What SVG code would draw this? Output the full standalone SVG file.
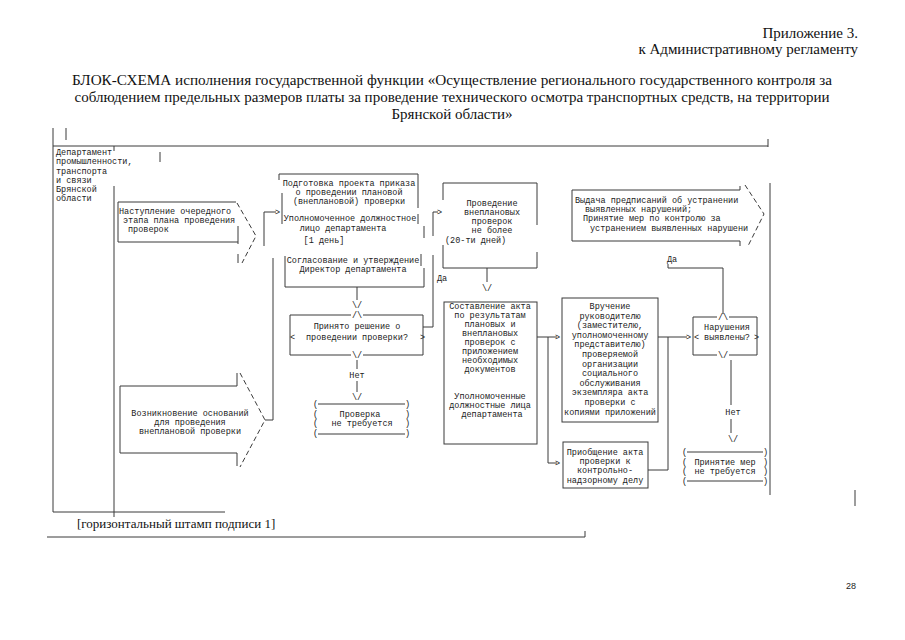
<svg xmlns="http://www.w3.org/2000/svg" width="905" height="640" viewBox="0 0 905 640">
<style>
.m{font-family:"Liberation Mono","DejaVu Sans Mono",monospace;font-size:8.5px;fill:#222}
.c{text-anchor:middle}
.s{font-family:"Liberation Serif","Times New Roman",serif;fill:#111}
.l{stroke:#3a3a3a;stroke-width:1;fill:none}
.d{stroke:#3a3a3a;stroke-width:1;fill:none;stroke-dasharray:5 3}
</style>
<rect width="905" height="640" fill="#fff"/>

<g id="header">
<text class="s" x="858" y="38" font-size="15" text-anchor="end">Приложение 3.</text>
<text class="s" x="858" y="54" font-size="15" text-anchor="end">к Административному регламенту</text>
<text class="s" x="452" y="85" font-size="15" text-anchor="middle" textLength="760" lengthAdjust="spacingAndGlyphs">БЛОК-СХЕМА исполнения государственной функции «Осуществление регионального государственного контроля за</text>
<text class="s" x="452" y="102" font-size="15" text-anchor="middle" textLength="755" lengthAdjust="spacingAndGlyphs">соблюдением предельных размеров платы за проведение технического осмотра транспортных средств, на территории</text>
<text class="s" x="452" y="119" font-size="15" text-anchor="middle">Брянской области»</text>
</g>

<g id="frame">
<path class="l" d="M53,128V512 M66,128V140 M53,146H768 M768,139V147 M114,146V151 M160,152V162 M114,186V517 M53,512H225 M770,183V495 M855,490V506 M47,537H585 M585,531V537"/>
<text class="s" x="77" y="528" font-size="13">[горизонтальный штамп подписи 1]</text>
<text x="846" y="589" font-family="Liberation Sans, Arial, sans-serif" font-size="9" fill="#222">28</text>
</g>

<g id="dept">
<text class="m" x="56" y="155">Департамент</text>
<text class="m" x="56" y="164">промышленности,</text>
<text class="m" x="56" y="174">транспорта</text>
<text class="m" x="56" y="183">и связи</text>
<text class="m" x="56" y="192">Брянской</text>
<text class="m" x="56" y="201">области</text>
</g>

<g id="n-nastuplenie">
<path class="l" d="M118,202H236 M118,202V242 M118,242H238 M238,226V244 M238,254V263"/>
<path class="d" d="M237,203L256,236L242,263"/>
<text class="m" x="119" y="214">Наступление очередного</text>
<text class="m" x="123" y="223">этапа плана проведения</text>
<text class="m" x="128" y="232">проверок</text>
</g>

<g id="n-vozniknovenie">
<path class="l" d="M120,386V453 M120,386H237 M237,373V386 M120,453H237 M237,453V466"/>
<path class="d" d="M240,373L265,420L240,467"/>
<text class="m c" x="190" y="416">Возникновение оснований</text>
<text class="m c" x="190" y="425">для проведения</text>
<text class="m c" x="190" y="434">внеплановой проверки</text>
</g>

<g id="n-podgotovka">
<path class="l" d="M279,174H418 M279,174V180 M418,174V208 M418,214V224 M424,226V238 M282,193V224"/>
<text class="m c" x="349" y="186">Подготовка проекта приказа</text>
<text class="m c" x="349" y="195">о проведении плановой</text>
<text class="m c" x="349" y="204">(внеплановой) проверки</text>
<text class="m c" x="350" y="221">Уполномоченное должностное</text>
<text class="m c" x="343" y="231">лицо  департамента</text>
<text class="m c" x="324" y="243">[1 день]</text>
</g>

<g id="n-soglasovanie">
<path class="l" d="M285,256V287H424V268 M421,254V266"/>
<text class="m c" x="353" y="263">Согласование и утверждение</text>
<text class="m c" x="353" y="272">Директор департамента</text>
</g>

<g id="n-decision1">
<path class="l" d="M290,315H351 M363,315H423 M290,315V355 M423,315V355 M290,355H351 M363,355H423"/>
<text class="m c" x="357" y="318">/\</text>
<text class="m c" x="357" y="358">\/</text>
<text class="m c" x="357" y="329">Принято решение о</text>
<text class="m" x="290" y="340">&lt;</text>
<text class="m c" x="357" y="340">проведении проверки?</text>
<text class="m" x="420" y="340">&gt;</text>
</g>

<g id="n-net-proverki">
<path class="l" d="M318,404H405 M318,434H405"/>
<text class="m" x="313" y="407">(</text><text class="m" x="405" y="407">)</text>
<text class="m" x="313" y="417">(</text><text class="m" x="405" y="417">)</text>
<text class="m" x="313" y="426">(</text><text class="m" x="405" y="426">)</text>
<text class="m" x="313" y="436">(</text><text class="m" x="405" y="436">)</text>
<text class="m c" x="360" y="417">Проверка</text>
<text class="m c" x="362" y="426">не требуется</text>
</g>

<g id="n-provedenie">
<path class="l" d="M443,183H537 M443,183V200 M443,245V268H537V252 M537,183V225"/>
<text class="m c" x="492" y="206">Проведение</text>
<text class="m c" x="492" y="215">внеплановых</text>
<text class="m c" x="492" y="224">проверок</text>
<text class="m c" x="492" y="233">не более</text>
<text class="m" x="445" y="243">(20-ти дней)</text>
</g>

<g id="n-sostavlenie">
<rect class="l" x="444" y="302" width="93" height="142"/>
<text class="m c" x="490" y="309">Составление акта</text>
<text class="m c" x="490" y="318">по результатам</text>
<text class="m c" x="490" y="327">плановых и</text>
<text class="m c" x="490" y="336">внеплановых</text>
<text class="m c" x="490" y="345">проверок с</text>
<text class="m c" x="490" y="354">приложением</text>
<text class="m c" x="490" y="363">необходимых</text>
<text class="m c" x="490" y="372">документов</text>
<text class="m c" x="490" y="399">Уполномоченные</text>
<text class="m c" x="490" y="408">должностные лица</text>
<text class="m c" x="492" y="417">департамента</text>
</g>

<g id="n-vruchenie">
<rect class="l" x="562" y="298" width="96" height="124"/>
<text class="m c" x="610" y="309">Вручение</text>
<text class="m c" x="610" y="318.6">руководителю</text>
<text class="m c" x="610" y="328.2">(заместителю,</text>
<text class="m c" x="610" y="337.8">уполномоченному</text>
<text class="m c" x="610" y="347.4">представителю)</text>
<text class="m c" x="610" y="357">проверяемой</text>
<text class="m c" x="610" y="366.6">организации</text>
<text class="m c" x="610" y="376.2">социального</text>
<text class="m c" x="610" y="385.8">обслуживания</text>
<text class="m c" x="610" y="395.4">экземпляра акта</text>
<text class="m c" x="610" y="405">проверки с</text>
<text class="m c" x="610" y="414.6">копиями приложений</text>
</g>

<g id="n-priobschenie">
<rect class="l" x="563" y="442" width="85" height="46"/>
<text class="m c" x="605" y="455">Приобщение акта</text>
<text class="m c" x="605" y="464">проверки к</text>
<text class="m c" x="605" y="473">контрольно-</text>
<text class="m c" x="605" y="483">надзорному делу</text>
</g>

<g id="n-decision2">
<path class="l" d="M693,317H717 M729,317H757 M693,317V355 M757,317V355 M693,355H717 M729,355H757"/>
<text class="m c" x="723" y="320">/\</text>
<text class="m c" x="723" y="358">\/</text>
<text class="m c" x="727" y="330">Нарушения</text>
<text class="m" x="694" y="340">&lt;</text>
<text class="m c" x="727" y="340">выявлены?</text>
<text class="m" x="754" y="340">&gt;</text>
</g>

<g id="n-net-mer">
<path class="l" d="M687,452H763 M687,481H763"/>
<text class="m" x="682" y="455">(</text><text class="m" x="763" y="455">)</text>
<text class="m" x="682" y="465">(</text><text class="m" x="763" y="465">)</text>
<text class="m" x="682" y="474">(</text><text class="m" x="763" y="474">)</text>
<text class="m" x="682" y="484">(</text><text class="m" x="763" y="484">)</text>
<text class="m c" x="725" y="465">Принятие мер</text>
<text class="m c" x="725" y="474">не требуется</text>
</g>

<g id="n-vydacha">
<path class="l" d="M572,190H740 M740,186V190 M572,190V241H740V246"/>
<path class="d" d="M745,185L764,214L748,246"/>
<text class="m" x="575" y="203">Выдача предписаний об устранении</text>
<text class="m" x="585" y="212">выявленных нарушений;</text>
<text class="m" x="583" y="221">Принятие мер по контролю за</text>
<text class="m" x="590" y="231">устранением выявленных нарушени</text>
</g>

<g id="connectors">
<path class="l" d="M264,212V246 M264,212H276"/>
<text class="m" x="275" y="215">&gt;</text>
<path class="l" d="M265,420H273V258"/>
<path class="l" d="M357,287V300"/>
<text class="m c" x="357" y="308">\/</text>
<path class="l" d="M357,360V369 M357,381V392"/>
<text class="m c" x="357" y="378">Нет</text>
<text class="m c" x="357" y="400">\/</text>
<path class="l" d="M423,327H433V255 M433,212V236 M433,212H438"/>
<text class="m" x="437" y="215">&gt;</text>
<text class="m" x="437" y="281">Да</text>
<path class="l" d="M487,268V282"/>
<text class="m c" x="487" y="291">\/</text>
<path class="l" d="M537,337H557 M548,337V463H557"/>
<text class="m" x="555" y="340">&gt;</text>
<text class="m" x="555" y="466">&gt;</text>
<path class="l" d="M658,337H687 M668,337V470H648"/>
<text class="m" x="686" y="340">&gt;</text>
<path class="l" d="M668,264V268H723V314"/>
<text class="m" x="667" y="262">Да</text>
<path class="l" d="M731,360V405 M731,419V433"/>
<text class="m c" x="733" y="415">Нет</text>
<text class="m c" x="733" y="442">\/</text>
</g>
</svg>
